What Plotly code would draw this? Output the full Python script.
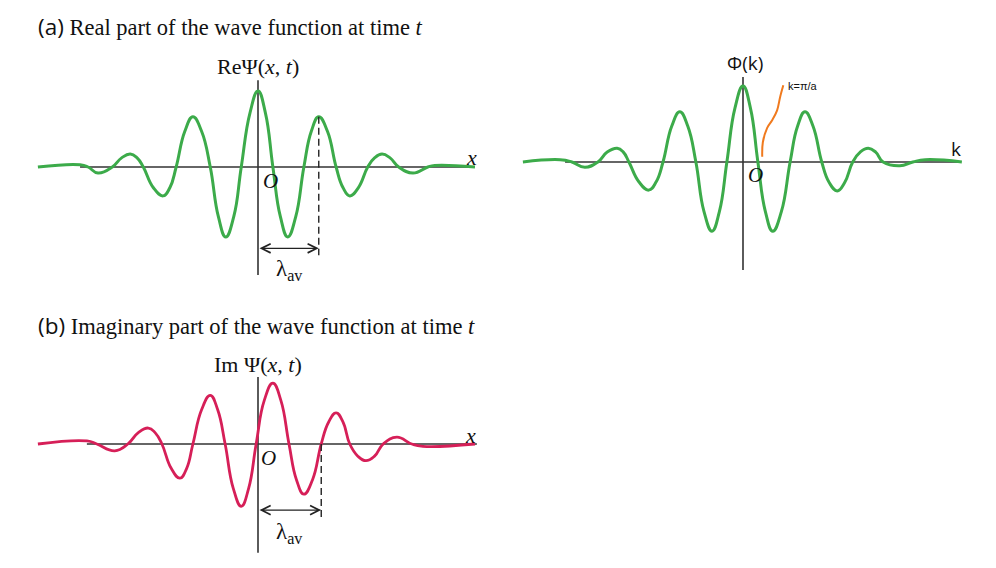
import plotly.graph_objects as go

W, H = 996, 568

# ---------------- data -------------
# x in units of lambda_av (62 px), y in units of the central peak amplitude
re_x = [-3.55, -2.87, -2.74, -2.58, -2.35, -2.2, -2.06, -1.95, -1.85, -1.69, -1.53, -1.42, -1.32,
        -1.18, -1.05, -0.91, -0.77, -0.64, -0.52, -0.39, -0.27, -0.13, 0.0, 0.12, 0.24,
        0.36, 0.48, 0.61, 0.74, 0.86, 0.98, 1.12, 1.26, 1.37, 1.48, 1.62, 1.77, 1.88, 2.0,
        2.13, 2.27, 2.5, 2.74, 2.85, 3.5]
re_y = [0.0, 0.03, 0.0, -0.08, 0.0, 0.12, 0.17, 0.12, 0.0, -0.27, -0.38, -0.27, 0.0,
        0.47, 0.66, 0.47, 0.0, -0.65, -0.92, -0.65, 0.0, 0.71, 1.0, 0.71, 0.0,
        -0.65, -0.92, -0.65, 0.0, 0.47, 0.66, 0.47, 0.0, -0.27, -0.38, -0.27, 0.0, 0.12, 0.17,
        0.12, 0.0, -0.08, 0.0, 0.02, 0.0]

phi_k = [-3.55, -2.95, -2.76, -2.55, -2.34, -2.19, -2.03, -1.93, -1.84, -1.68, -1.52, -1.40, -1.29,
         -1.15, -1.02, -0.89, -0.76, -0.63, -0.5, -0.38, -0.26, -0.13, 0.0, 0.12, 0.24,
         0.36, 0.48, 0.62, 0.76, 0.88, 1.0, 1.13, 1.27, 1.39, 1.52, 1.64, 1.77, 1.89, 2.02,
         2.14, 2.26, 2.53, 2.74, 2.94, 3.53]
phi_y = [0.0, 0.03, 0.0, -0.07, 0.0, 0.13, 0.18, 0.13, 0.0, -0.26, -0.37, -0.26, 0.0,
         0.47, 0.66, 0.47, 0.0, -0.65, -0.91, -0.65, 0.0, 0.71, 1.0, 0.71, 0.0,
         -0.65, -0.91, -0.65, 0.0, 0.47, 0.66, 0.47, 0.0, -0.27, -0.38, -0.27, 0.0, 0.13, 0.18,
         0.13, 0.0, -0.05, 0.0, 0.03, 0.0]

edge_k = [0.31, 0.32, 0.39, 0.47, 0.55, 0.6, 0.65]
edge_y = [0.07, 0.26, 0.45, 0.55, 0.68, 0.86, 1.01]

im_x = [-3.55, -2.76, -2.6, -2.31, -2.1, -1.93, -1.77, -1.66, -1.55, -1.40, -1.26, -1.15, -1.05,
        -0.91, -0.77, -0.65, -0.53, -0.40, -0.27, -0.15, -0.03, 0.10, 0.24, 0.37, 0.5,
        0.62, 0.74, 0.88, 1.02, 1.14, 1.26, 1.37, 1.48, 1.61, 1.74, 1.88, 2.02, 2.24, 2.48,
        2.66, 3.5]
im_y = [0.0, 0.04, 0.0, -0.09, 0.0, 0.15, 0.21, 0.15, 0.0, -0.32, -0.45, -0.32, 0.0,
        0.45, 0.64, 0.45, 0.0, -0.58, -0.82, -0.58, 0.0, 0.57, 0.80, 0.57, 0.0,
        -0.47, -0.66, -0.47, 0.0, 0.29, 0.41, 0.29, 0.0, -0.16, -0.22, -0.16, 0.0, 0.09, 0.0,
        -0.03, 0.0]

lam_re = 0.98     # wavelength marker, real part
lam_im = 1.02     # wavelength marker, imaginary part

# axis extents (data units)
a_hx = (-2.87, 3.47); a_vy = (-1.42, 1.14)
k_hx = (-2.87, 3.50); k_vy = (-1.42, 1.12)
b_hx = (-2.76, 3.53); b_vy = (-1.43, 0.88)

GREEN = "#3cab4a"
RED = "#d61f58"
ORANGE = "#f07a1e"
AX = "#333333"
SERIF = "Liberation Serif"
SANS = "Open Sans"

# ---------------- layout helper: pixel box -> domain / range -------------
UX, UY = 62.0, 76.0


def place(left, right, top, bottom, ox, oy):
    xd = [left / W, right / W]
    xr = [(left - ox) / UX, (right - ox) / UX]
    yd = [1 - bottom / H, 1 - top / H]
    yr = [(oy - bottom) / UY, (oy - top) / UY]
    return xd, xr, yd, yr


fig = go.Figure()

panels = {
    "": place(20, 490, 45, 295, 258, 167),
    "2": place(505, 990, 45, 295, 743, 162),
    "3": place(20, 490, 345, 566, 258, 444),
}
for suf, (xd, xr, yd, yr) in panels.items():
    fig.update_layout(**{
        "xaxis" + suf: dict(domain=xd, range=xr, visible=False, fixedrange=True,
                            anchor="y" + suf),
        "yaxis" + suf: dict(domain=yd, range=yr, visible=False, fixedrange=True,
                            anchor="x" + suf),
    })


def axis_lines(xref, yref, hx, vy):
    fig.add_shape(type="line", xref=xref, yref=yref, x0=hx[0], x1=hx[1], y0=0, y1=0,
                  line=dict(color=AX, width=1.6), layer="below")
    fig.add_shape(type="line", xref=xref, yref=yref, x0=0, x1=0, y0=vy[0], y1=vy[1],
                  line=dict(color=AX, width=1.6), layer="below")


axis_lines("x", "y", a_hx, a_vy)
axis_lines("x2", "y2", k_hx, k_vy)
axis_lines("x3", "y3", b_hx, b_vy)

SM = 1.3
fig.add_trace(go.Scatter(x=re_x, y=re_y, mode="lines", xaxis="x", yaxis="y",
                         line=dict(color=GREEN, width=3, shape="spline", smoothing=SM),
                         hoverinfo="skip", showlegend=False, cliponaxis=False))
fig.add_trace(go.Scatter(x=phi_k, y=phi_y, mode="lines", xaxis="x2", yaxis="y2",
                         line=dict(color=GREEN, width=3, shape="spline", smoothing=SM),
                         hoverinfo="skip", showlegend=False, cliponaxis=False))
fig.add_trace(go.Scatter(x=edge_k, y=edge_y, mode="lines", xaxis="x2", yaxis="y2",
                         line=dict(color=ORANGE, width=2, shape="spline", smoothing=1.0),
                         hoverinfo="skip", showlegend=False, cliponaxis=False))
fig.add_trace(go.Scatter(x=im_x, y=im_y, mode="lines", xaxis="x3", yaxis="y3",
                         line=dict(color=RED, width=2.8, shape="spline", smoothing=SM),
                         hoverinfo="skip", showlegend=False, cliponaxis=False))

# dashed wavelength markers
fig.add_shape(type="line", xref="x", yref="y", x0=lam_re, x1=lam_re, y0=0.66, y1=-1.16,
              line=dict(color="#222", width=1.4, dash="7px,4px"))
fig.add_shape(type="line", xref="x3", yref="y3", x0=lam_im, x1=lam_im, y0=0, y1=-0.96,
              line=dict(color="#222", width=1.4, dash="7px,4px"))

ann = []


def arrow(xr, yr, x1, y):
    ann.append(dict(xref=xr, yref=yr, axref=xr, ayref=yr, x=x1, y=y, ax=0, ay=y, text="",
                    showarrow=True, arrowhead=5, arrowside="end+start", arrowsize=1.5,
                    arrowwidth=1.2, arrowcolor="#222", standoff=0, startstandoff=0))


arrow("x", "y", lam_re, -1.07)
arrow("x3", "y3", lam_im, -0.87)


def txt(xr, yr, x, y, text, size, family=SERIF, xanchor="center", color="#111"):
    ann.append(dict(xref=xr, yref=yr, x=x, y=y, text=text, showarrow=False,
                    xanchor=xanchor, yanchor="middle",
                    font=dict(family=family, size=size, color=color)))


# titles
txt("paper", "paper", 36 / W, 1 - 27 / H,
    '<span style="font-family:Open Sans">(a)</span> Real part of the wave function at time <i>t</i>',
    22.5, xanchor="left")
txt("paper", "paper", 36 / W, 1 - 325 / H,
    '<span style="font-family:Open Sans">(b)</span> Imaginary part of the wave function at time <i>t</i>',
    22.5, xanchor="left")

# panel (a) labels
txt("x", "y", 0.0, 1.32, "ReΨ(<i>x</i>, <i>t</i>)", 22)
txt("x", "y", 3.45, 0.13, "<i>x</i>", 22)
txt("x", "y", 0.2, -0.18, "<i>O</i>", 21)
txt("x", "y", 0.5, -1.36, "λ<sub>av</sub>", 23)

# panel k labels
txt("x2", "y2", 0.03, 1.30, "Φ(k)", 19, family=SANS)
txt("x2", "y2", 3.43, 0.17, "k", 19, family=SANS)
txt("x2", "y2", 0.2, -0.17, "<i>O</i>", 21)
txt("x2", "y2", 0.70, 1.0, "k=π/a", 11, family="Liberation Sans", xanchor="left")

# panel (b) labels
txt("x3", "y3", 0.0, 1.04, "Im Ψ(<i>x</i>, <i>t</i>)", 22)
txt("x3", "y3", 3.42, 0.11, "<i>x</i>", 22)
txt("x3", "y3", 0.17, -0.18, "<i>O</i>", 21)
txt("x3", "y3", 0.5, -1.17, "λ<sub>av</sub>", 23)

fig.update_layout(width=W, height=H, autosize=False,
                  margin=dict(l=0, r=0, t=0, b=0),
                  paper_bgcolor="white", plot_bgcolor="rgba(0,0,0,0)",
                  annotations=ann, showlegend=False)

fig.write_html("out.html", config={"displayModeBar": False},
               post_script="document.body.style.margin='0px';")
